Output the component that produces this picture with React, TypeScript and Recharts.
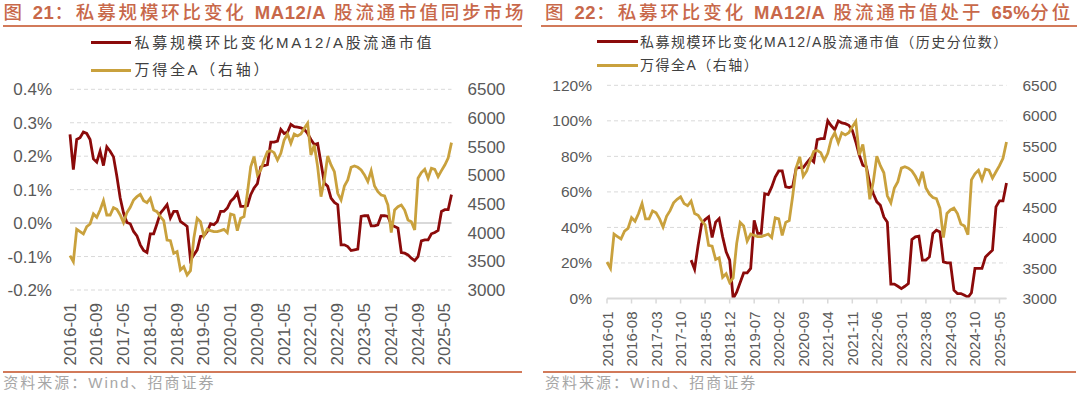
import React from 'react';
import { LineChart, Line, XAxis, YAxis, CartesianGrid, ReferenceLine } from 'recharts';

// ---------- categories (monthly, 2016-01 .. 2025-07) ----------
const months: string[] = [];
for (let y = 2016; y <= 2025; y++) {
  for (let m = 1; m <= 12; m++) {
    if (y === 2025 && m > 7) break;
    months.push(`${y}-${String(m).padStart(2, '0')}`);
  }
}

// ---------- series ----------
// 私募规模环比变化MA12/A股流通市值 (%)
const privateRatio: number[] = [
  0.265, 0.16, 0.25, 0.255, 0.272, 0.268, 0.25, 0.192, 0.182, 0.215,
  0.172, 0.228, 0.215, 0.198, 0.14, 0.075, 0.03, 0.002, -0.002, -0.025,
  -0.038, -0.065, -0.082, -0.088, -0.032, -0.032, -0.002, 0.03, 0.042, 0.055,
  0.015, 0.035, 0.035, 0.005, -0.002, -0.01, -0.11, -0.095, -0.08, -0.04,
  -0.038, -0.025, -0.002, -0.005, 0.005, 0.035, 0.035, 0.045, 0.065, 0.075,
  0.09, 0.05, 0.05, 0.052, 0.085, 0.105, 0.118, 0.168, 0.172, 0.175,
  0.242, 0.242, 0.245, 0.28, 0.268, 0.272, 0.295, 0.288, 0.287, 0.285,
  0.28, 0.268, 0.25, 0.235, 0.238, 0.18, 0.12, 0.11, 0.075, 0.062,
  0.055, -0.065, -0.065, -0.07, -0.082, -0.08, -0.078, 0.02, 0.022, 0.022,
  -0.008, -0.008, -0.005, 0.022, 0.022, 0.02, -0.005, -0.01, -0.015, -0.088,
  -0.09, -0.095, -0.105, -0.112, -0.1, -0.053, -0.05, -0.05, -0.032, -0.028,
  -0.022, 0.035, 0.04, 0.04, 0.085,
];

// 私募规模环比变化MA12/A股流通市值（历史分位数） (%)
const privatePercentile: (number | null)[] = [
  null, null, null, null, null, null, null, null, null, null,
  null, null, null, null, null, null, null, null, null, null,
  null, null, null, null, 21.6, 16.5, 30, 42, 44.4, 46,
  34.3, 43, 45, 34.7, 26.3, 21.6, 0, 3.5, 9, 14.4,
  14.4, 16.9, 44, 36.6, 36.6, 59, 58.5, 62.8, 68.4, 71.8,
  71.8, 62.8, 62.4, 63.2, 73.5, 73.7, 73.7, 76.3, 78.8, 76.9,
  89.4, 90, 90, 100, 97.2, 95, 99.9, 98.8, 98.4, 97.5,
  94.7, 88.1, 80.6, 75, 74.1, 64.7, 59, 54.4, 52.5, 45.9,
  43, 8.1, 8.1, 6.9, 5.6, 6.9, 8.4, 33.2, 34.7, 35.1,
  21.6, 21.6, 23.4, 36.6, 38.4, 37.5, 20.6, 20.1, 20.1, 4.7,
  2.8, 2.8, 1.9, 0.6, 3.2, 16.9, 16.9, 16.9, 23.4, 25.3,
  27.2, 51.6, 55, 55, 65,
];

// 万得全A（右轴）
const windAllA: number[] = [
  3599, 3494, 4058, 4017, 3977, 4105, 4151, 4326, 4267, 4395,
  4558, 4308, 4308, 4436, 4407, 4308, 4174, 4349, 4442, 4570,
  4628, 4669, 4558, 4523, 4599, 4395, 4366, 4279, 4209, 3872,
  3860, 3640, 3669, 3349, 3407, 3262, 3337, 3901, 4250, 4192,
  3942, 4058, 4035, 4017, 4017, 4035, 4058, 4000, 4326, 4308,
  4035, 4250, 4279, 4686, 5150, 5326, 5006, 5093, 5267, 5413,
  5430, 5395, 5267, 5384, 5616, 5721, 5558, 5721, 5686, 5721,
  5820, 5907, 5355, 5529, 5151, 4628, 4919, 5337, 5180, 5064,
  4686, 4570, 4814, 4919, 5140, 5163, 5140, 5093, 5006, 4890,
  5081, 4814, 4715, 4657, 4640, 4483, 4000, 4395, 4453, 4483,
  4395, 4221, 4192, 4047, 4948, 5047, 5105, 4948, 5122, 5105,
  4977, 5081, 5180, 5300, 5570,
];

// ---------- tick labels ----------
const ratioTicks = [-0.2, -0.1, 0, 0.1, 0.2, 0.3, 0.4];
const pctTicks = [0, 20, 40, 60, 80, 100, 120];
const indexTicks = [3000, 3500, 4000, 4500, 5000, 5500, 6000, 6500];

const tableData = months.map((m, i) => ({
  month: m,
  ratio: privateRatio[i],
  pct: privatePercentile[i],
  allA: windAllA[i],
}));

const FONT = "'Liberation Sans', Arial, 'Noto Sans CJK SC', sans-serif";
const RED = '#8B0A0A';
const GOLD = '#C9A13D';
const TITLE = '#C8684A';
const RULE = '#D27A5A';
const GRID = '#D9D9D9';
const TICK = '#595959';

const makeRotTick = (fontSize: number) => (props: any) => {
  const { x, y, payload } = props;
  return (
    <text
      x={x}
      y={y}
      transform={`rotate(-90 ${x} ${y})`}
      textAnchor="end"
      dominantBaseline="central"
      fontSize={fontSize}
      fill={TICK}
      fontFamily={FONT}
    >
      {payload.value}
    </text>
  );
};

const abs = (s: React.CSSProperties): React.CSSProperties => ({ position: 'absolute', whiteSpace: 'nowrap', ...s });
const latin: React.CSSProperties = { fontWeight: 700, letterSpacing: 0.6 };

export default function App() {
  return (
    <div style={{ position: 'absolute', left: 0, top: 0, width: 1080, height: 395, background: '#fff', overflow: 'hidden', fontFamily: FONT }}>
      {/* ---------- Left panel texts ---------- */}
      <div style={abs({ left: 3.4, top: 3, fontSize: 18.5, lineHeight: '20px', letterSpacing: 2.85, color: TITLE, fontWeight: 500 })}>
        图 <span style={latin}>21</span>：私募规模环比变化 <span style={latin}>MA12/A</span> 股流通市值同步市场
      </div>
      <div style={abs({ left: 3, top: 25, width: 519, height: 2, background: RULE })} />
      <div style={abs({ left: 91, top: 41.2, width: 40, height: 3, background: RED })} />
      <div style={abs({ left: 134.5, top: 33.7, fontSize: 15, lineHeight: '18px', letterSpacing: 2.7, color: '#404040' })}>
        私募规模环比变化MA12/A股流通市值
      </div>
      <div style={abs({ left: 91, top: 68.5, width: 40, height: 3, background: GOLD })} />
      <div style={abs({ left: 134.5, top: 61, fontSize: 15, lineHeight: '18px', letterSpacing: 2.7, color: '#404040' })}>
        万得全A（右轴）
      </div>
      <div style={abs({ left: 3, top: 371, width: 519, height: 1.5, background: RULE })} />
      <div style={abs({ left: 3.3, top: 374.3, fontSize: 15, lineHeight: '18px', letterSpacing: 2, color: '#A6A6A6' })}>
        资料来源：Wind、招商证券
      </div>

      {/* ---------- Right panel texts ---------- */}
      <div style={abs({ left: 545, top: 3, fontSize: 18.5, lineHeight: '20px', letterSpacing: 2.9, color: TITLE, fontWeight: 500 })}>
        图 <span style={latin}>22</span>：私募环比变化 <span style={latin}>MA12/A</span> 股流通市值处于 <span style={latin}>65%</span>分位
      </div>
      <div style={abs({ left: 541, top: 25, width: 536, height: 2, background: RULE })} />
      <div style={abs({ left: 597, top: 40.2, width: 41, height: 3, background: RED })} />
      <div style={abs({ left: 640, top: 32.7, fontSize: 14, lineHeight: '18px', letterSpacing: 1.5, color: '#404040' })}>
        私募规模环比变化MA12/A股流通市值（历史分位数）
      </div>
      <div style={abs({ left: 597, top: 63.5, width: 41, height: 3, background: GOLD })} />
      <div style={abs({ left: 640, top: 56, fontSize: 14, lineHeight: '18px', letterSpacing: 1.5, color: '#404040' })}>
        万得全A（右轴）
      </div>
      <div style={abs({ left: 543, top: 371, width: 533, height: 1.5, background: RULE })} />
      <div style={abs({ left: 545, top: 374.3, fontSize: 15, lineHeight: '18px', letterSpacing: 2, color: '#A6A6A6' })}>
        资料来源：Wind、招商证券
      </div>

      {/* ---------- Left chart ---------- */}
      <div style={abs({ left: 0, top: 0 })}>
        <LineChart width={540} height={395} data={tableData} margin={{ top: 89.3, right: 0, bottom: 0, left: 0 }}>
          <CartesianGrid vertical={false} yAxisId="L" stroke={GRID} strokeDasharray="4 3" />
          <XAxis
            dataKey="month"
            interval={7}
            height={105}
            axisLine={false}
            tickLine={false}
            tickSize={0}
            tickMargin={13}
            tick={makeRotTick(17)}
          />
          <YAxis
            yAxisId="L"
            orientation="left"
            width={70}
            domain={[-0.2, 0.4]}
            ticks={ratioTicks}
            allowDataOverflow
            axisLine={false}
            tickLine={false}
            tickSize={0}
            tickMargin={18}
            tickFormatter={(v: number) => `${v.toFixed(1)}%`}
            tick={{ fill: TICK, fontSize: 17, fontFamily: FONT }}
          />
          <YAxis
            yAxisId="R"
            orientation="right"
            width={88.5}
            domain={[3000, 6500]}
            ticks={indexTicks}
            allowDataOverflow
            axisLine={false}
            tickLine={false}
            tickSize={0}
            tickMargin={16}
            tick={{ fill: TICK, fontSize: 17, fontFamily: FONT, textAnchor: 'start' }}
          />
          <ReferenceLine yAxisId="L" y={0} stroke={GRID} strokeWidth={2} />
          <Line yAxisId="L" dataKey="ratio" stroke={RED} strokeWidth={2.8} dot={false} isAnimationActive={false} type="linear" />
          <Line yAxisId="R" dataKey="allA" stroke={GOLD} strokeWidth={2.8} dot={false} isAnimationActive={false} type="linear" />
        </LineChart>
      </div>

      {/* ---------- Right chart ---------- */}
      <div style={abs({ left: 540, top: 0 })}>
        <LineChart width={540} height={395} data={tableData} margin={{ top: 85.3, right: 0, bottom: 0, left: 0 }}>
          <CartesianGrid vertical={false} yAxisId="L" stroke={GRID} strokeDasharray="4 3" />
          <XAxis
            dataKey="month"
            interval={6}
            height={96.5}
            axisLine={{ stroke: GRID, strokeWidth: 2 }}
            tickLine={{ stroke: GRID, strokeWidth: 1.5 }}
            tickSize={5}
            tickMargin={8}
            tick={makeRotTick(15)}
          />
          <YAxis
            yAxisId="L"
            orientation="left"
            width={67}
            domain={[0, 120]}
            ticks={pctTicks}
            allowDataOverflow
            axisLine={false}
            tickLine={false}
            tickSize={0}
            tickMargin={15}
            tickFormatter={(v: number) => `${v}%`}
            tick={{ fill: TICK, fontSize: 15.5, fontFamily: FONT }}
          />
          <YAxis
            yAxisId="R"
            orientation="right"
            width={73.5}
            domain={[3000, 6500]}
            ticks={indexTicks}
            allowDataOverflow
            axisLine={false}
            tickLine={false}
            tickSize={0}
            tickMargin={16}
            tick={{ fill: TICK, fontSize: 15.5, fontFamily: FONT, textAnchor: 'start' }}
          />
          <Line yAxisId="L" dataKey="pct" stroke={RED} strokeWidth={2.8} dot={false} isAnimationActive={false} type="linear" />
          <Line yAxisId="R" dataKey="allA" stroke={GOLD} strokeWidth={2.8} dot={false} isAnimationActive={false} type="linear" />
        </LineChart>
      </div>
    </div>
  );
}
